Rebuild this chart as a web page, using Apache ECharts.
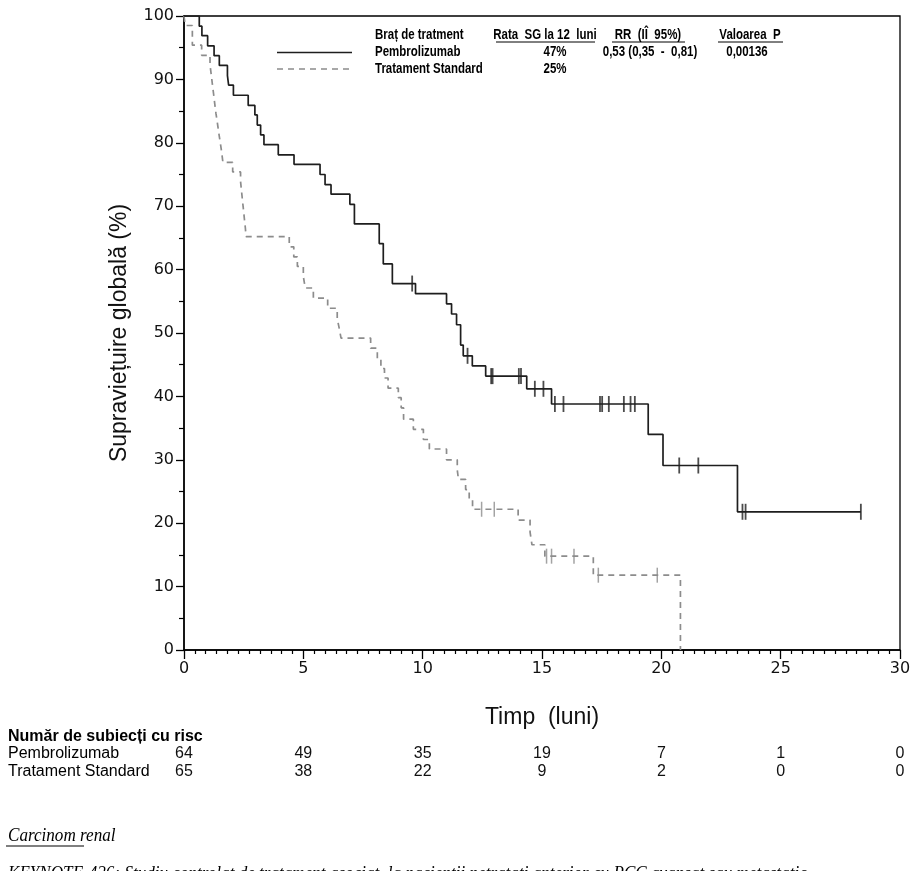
<!DOCTYPE html>
<html>
<head>
<meta charset="utf-8">
<script src="https://cdn.jsdelivr.net/npm/echarts@6/dist/echarts.min.js"></script>
<style>
html,body{margin:0;padding:0;background:#fff;}
#chart{width:917px;height:871px;}
</style>
</head>
<body>
<div id="chart"></div>
<script>
// ---- data (time in months, survival in %) ----
const pembroTime = [0, 0.64, 0.75, 0.99, 1.26, 1.48, 1.82, 1.87, 2.07, 2.69, 2.97, 3.07, 3.21, 3.35, 3.95, 4.61, 5.70, 5.91, 6.16, 6.95, 7.14, 8.18, 8.35, 8.73, 9.70, 11.00, 11.21, 11.42, 11.59, 11.70, 12.08, 12.64, 14.36, 15.40, 19.45, 20.07, 23.19, 28.36];
const pembroSurv = [100, 98.4, 96.9, 95.3, 93.75, 92.2, 90.6, 89.1, 87.5, 85.9, 84.4, 82.8, 81.25, 79.7, 78.1, 76.6, 75.0, 73.4, 71.9, 70.3, 67.2, 64.1, 60.9, 57.8, 56.2, 54.6, 53.0, 51.3, 48.1, 46.4, 44.8, 43.2, 41.2, 38.8, 34.0, 29.1, 21.8, 21.8];
const pembroCensTime = [9.56, 11.88, 12.87, 12.93, 14.03, 14.12, 14.70, 15.06, 15.54, 15.90, 17.43, 17.52, 17.80, 18.43, 18.71, 18.89, 20.75, 21.55, 23.40, 23.53, 28.36];
const pembroCensSurv = [57.8, 46.4, 43.2, 43.2, 43.2, 43.2, 41.2, 41.2, 38.8, 38.8, 38.8, 38.8, 38.8, 38.8, 38.8, 38.8, 29.1, 29.1, 21.8, 21.8, 21.8];

const stdTime = [0, 0.05, 0.35, 0.74, 1.09, 1.14, 1.19, 1.24, 1.29, 1.34, 1.40, 1.46, 1.52, 1.58, 1.63, 2.04, 2.37, 2.41, 2.45, 2.49, 2.53, 2.57, 2.60, 4.41, 4.60, 4.75, 5.00, 5.08, 5.42, 6.02, 6.42, 6.50, 6.58, 7.82, 8.10, 8.25, 8.40, 8.55, 8.98, 9.10, 9.20, 9.61, 10.03, 10.28, 11.00, 11.45, 11.50, 11.80, 11.95, 12.09, 14.00, 14.50, 14.58, 15.12, 17.15, 20.80];
const stdSurv = [100, 98.5, 95.4, 93.8, 92.3, 90.8, 89.2, 87.7, 86.1, 84.6, 83.1, 81.5, 80.0, 78.5, 76.9, 75.4, 73.9, 72.4, 70.9, 69.5, 68.0, 66.6, 65.2, 63.6, 62.0, 60.5, 58.9, 57.1, 55.5, 53.9, 52.3, 50.8, 49.2, 47.6, 46.0, 44.4, 42.9, 41.3, 39.8, 38.2, 36.4, 34.8, 33.2, 31.7, 30.0, 28.4, 26.9, 25.3, 23.8, 22.2, 20.5, 18.6, 16.6, 14.8, 11.8, 0];
const stdCensTime = [12.47, 13.00, 15.19, 15.40, 16.34, 17.36, 19.83];
const stdCensSurv = [22.2, 22.2, 14.8, 14.8, 14.8, 11.8, 11.8];

const riskTimes = [0, 5, 10, 15, 20, 25, 30];
const riskPembro = [64, 49, 35, 19, 7, 1, 0];
const riskStd = [65, 38, 22, 9, 2, 0, 0];

const seriesNames = ['Pembrolizumab', 'Tratament Standard'];
const rate12 = ['47%', '25%'];
const hrText = '0,53 (0,35  -  0,81)';
const pText = '0,00136';

// ---- helpers ----
const zip = (a, b) => a.map((v, i) => [v, b[i]]);
const SOLID = '#1e1e1e';
const GREY = '#8c8c8c';
const NARROW = 0.82;
const TICKFONT = 'DejaVu Sans';
const SANS = 'Liberation Sans';

const chart = echarts.init(document.getElementById('chart'), null, {renderer: 'canvas'});

function riskAxis(values, offset) {
  return {
    type: 'value', gridIndex: 0, position: 'bottom', offset: offset,
    min: 0, max: 30, interval: 5,
    axisLine: {show: false}, axisTick: {show: false}, splitLine: {show: false},
    axisLabel: {
      margin: 0, color: '#111', fontFamily: SANS, fontSize: 16,
      formatter: v => { const i = riskTimes.indexOf(v); return i < 0 ? '' : String(values[i]); }
    }
  };
}

function txt(x, y, s, opts) {
  opts = opts || {};
  return {
    type: 'text', x: x, y: y, scaleX: opts.scaleX == null ? NARROW : opts.scaleX,
    z: 100,
    style: {
      text: s, x: 0, y: 0,
      fill: opts.color || '#000',
      font: (opts.style || '') + ' ' + (opts.weight || 'bold') + ' ' + (opts.size || 14) + 'px "' + (opts.family || SANS) + '"',
      align: opts.align || 'left', verticalAlign: 'middle'
    }
  };
}
function hline(x1, x2, y, color, width, dash) {
  return {type: 'line', z: 100, shape: {x1: x1, y1: y, x2: x2, y2: y},
    style: {stroke: color, lineWidth: width, lineDash: dash || null}};
}

const option = {
  animation: false,
  backgroundColor: '#fff',
  grid: {left: 184, top: 16, width: 716, height: 634, show: true, borderColor: '#000', borderWidth: 1.3, backgroundColor: 'transparent'},
  xAxis: [
    {
      type: 'value', min: 0, max: 30, interval: 5,
      name: 'Timp  (luni)', nameLocation: 'middle', nameGap: 56,
      nameTextStyle: {fontFamily: SANS, fontSize: 23, color: '#111'},
      axisLine: {show: true, onZero: false, lineStyle: {color: '#000', width: 1.5}},
      axisTick: {show: true, inside: false, length: 9, lineStyle: {color: '#000', width: 1.3}},
      minorTick: {show: true, splitNumber: 11, length: 4, lineStyle: {color: '#000', width: 1.2}},
      splitLine: {show: false},
      axisLabel: {margin: 11, fontFamily: TICKFONT, fontSize: 16, color: '#111'}
    },
    riskAxis(riskPembro, 96),
    riskAxis(riskStd, 114)
  ],
  yAxis: {
    type: 'value', min: 0, max: 100, interval: 10,
    name: 'Supraviețuire globală (%)', nameLocation: 'middle', nameGap: 53,
    nameTextStyle: {fontFamily: SANS, fontSize: 23, color: '#111'},
    axisLine: {show: true, onZero: false, lineStyle: {color: '#000', width: 1.5}},
    axisTick: {show: true, inside: false, length: 8, lineStyle: {color: '#000', width: 1.3}},
    minorTick: {show: true, splitNumber: 2, length: 5, lineStyle: {color: '#000', width: 1.2}},
    splitLine: {show: false},
    axisLabel: {margin: 10, fontFamily: TICKFONT, fontSize: 16, color: '#111'}
  },
  series: [
    {
      name: seriesNames[1], type: 'line', step: 'end', data: zip(stdTime, stdSurv),
      showSymbol: false, symbol: 'none', z: 2,
      lineStyle: {color: GREY, width: 1.7, type: [6, 5]}
    },
    {
      name: seriesNames[0], type: 'line', step: 'end', data: zip(pembroTime, pembroSurv),
      showSymbol: false, symbol: 'none', z: 3,
      lineStyle: {color: SOLID, width: 1.7}
    },
    {
      type: 'scatter', data: zip(stdCensTime, stdCensSurv), symbol: 'rect', symbolSize: [1.5, 15],
      itemStyle: {color: GREY}, z: 4, silent: true
    },
    {
      type: 'scatter', data: zip(pembroCensTime, pembroCensSurv), symbol: 'rect', symbolSize: [1.8, 16],
      itemStyle: {color: SOLID}, z: 5, silent: true
    }
  ],
  graphic: [
    // legend
    hline(277, 352, 52.5, SOLID, 1.7),
    hline(277, 352, 69, GREY, 1.5, [6, 5]),
    txt(375, 35, 'Braț de tratment'),
    txt(375, 52.5, seriesNames[0]),
    txt(375, 69, seriesNames[1]),
    txt(545, 35, 'Rata  SG la 12  luni', {align: 'center'}),
    txt(555, 52.5, rate12[0], {align: 'center'}),
    txt(555, 69, rate12[1], {align: 'center'}),
    txt(648, 35, 'RR  (IÎ  95%)', {align: 'center'}),
    txt(650, 52.5, hrText, {align: 'center'}),
    txt(750, 35, 'Valoarea  P', {align: 'center'}),
    txt(747, 52.5, pText, {align: 'center'}),
    hline(496, 595, 42, '#000', 1),
    hline(612, 685, 42, '#000', 1),
    hline(718, 783, 42, '#000', 1),
    // risk table row labels
    txt(8, 737, 'Număr de subiecți cu risc', {size: 16, scaleX: 1}),
    txt(8, 754, seriesNames[0], {size: 16, weight: 'normal', scaleX: 1}),
    txt(8, 772, seriesNames[1], {size: 16, weight: 'normal', scaleX: 1}),
    // bottom text
    txt(8, 836, 'Carcinom renal', {size: 19, weight: 'normal', style: 'italic', family: 'Liberation Serif', scaleX: 0.9}),
    hline(6, 84, 846, '#555', 1.5),
    txt(8, 874, 'KEYNOTE-426: Studiu controlat de tratament asociat, la pacienții netratați anterior cu RCC avansat sau metastatic', {size: 19, weight: 'normal', style: 'italic', family: 'Liberation Serif', scaleX: 0.9})
  ]
};
chart.setOption(option);
</script>
</body>
</html>
